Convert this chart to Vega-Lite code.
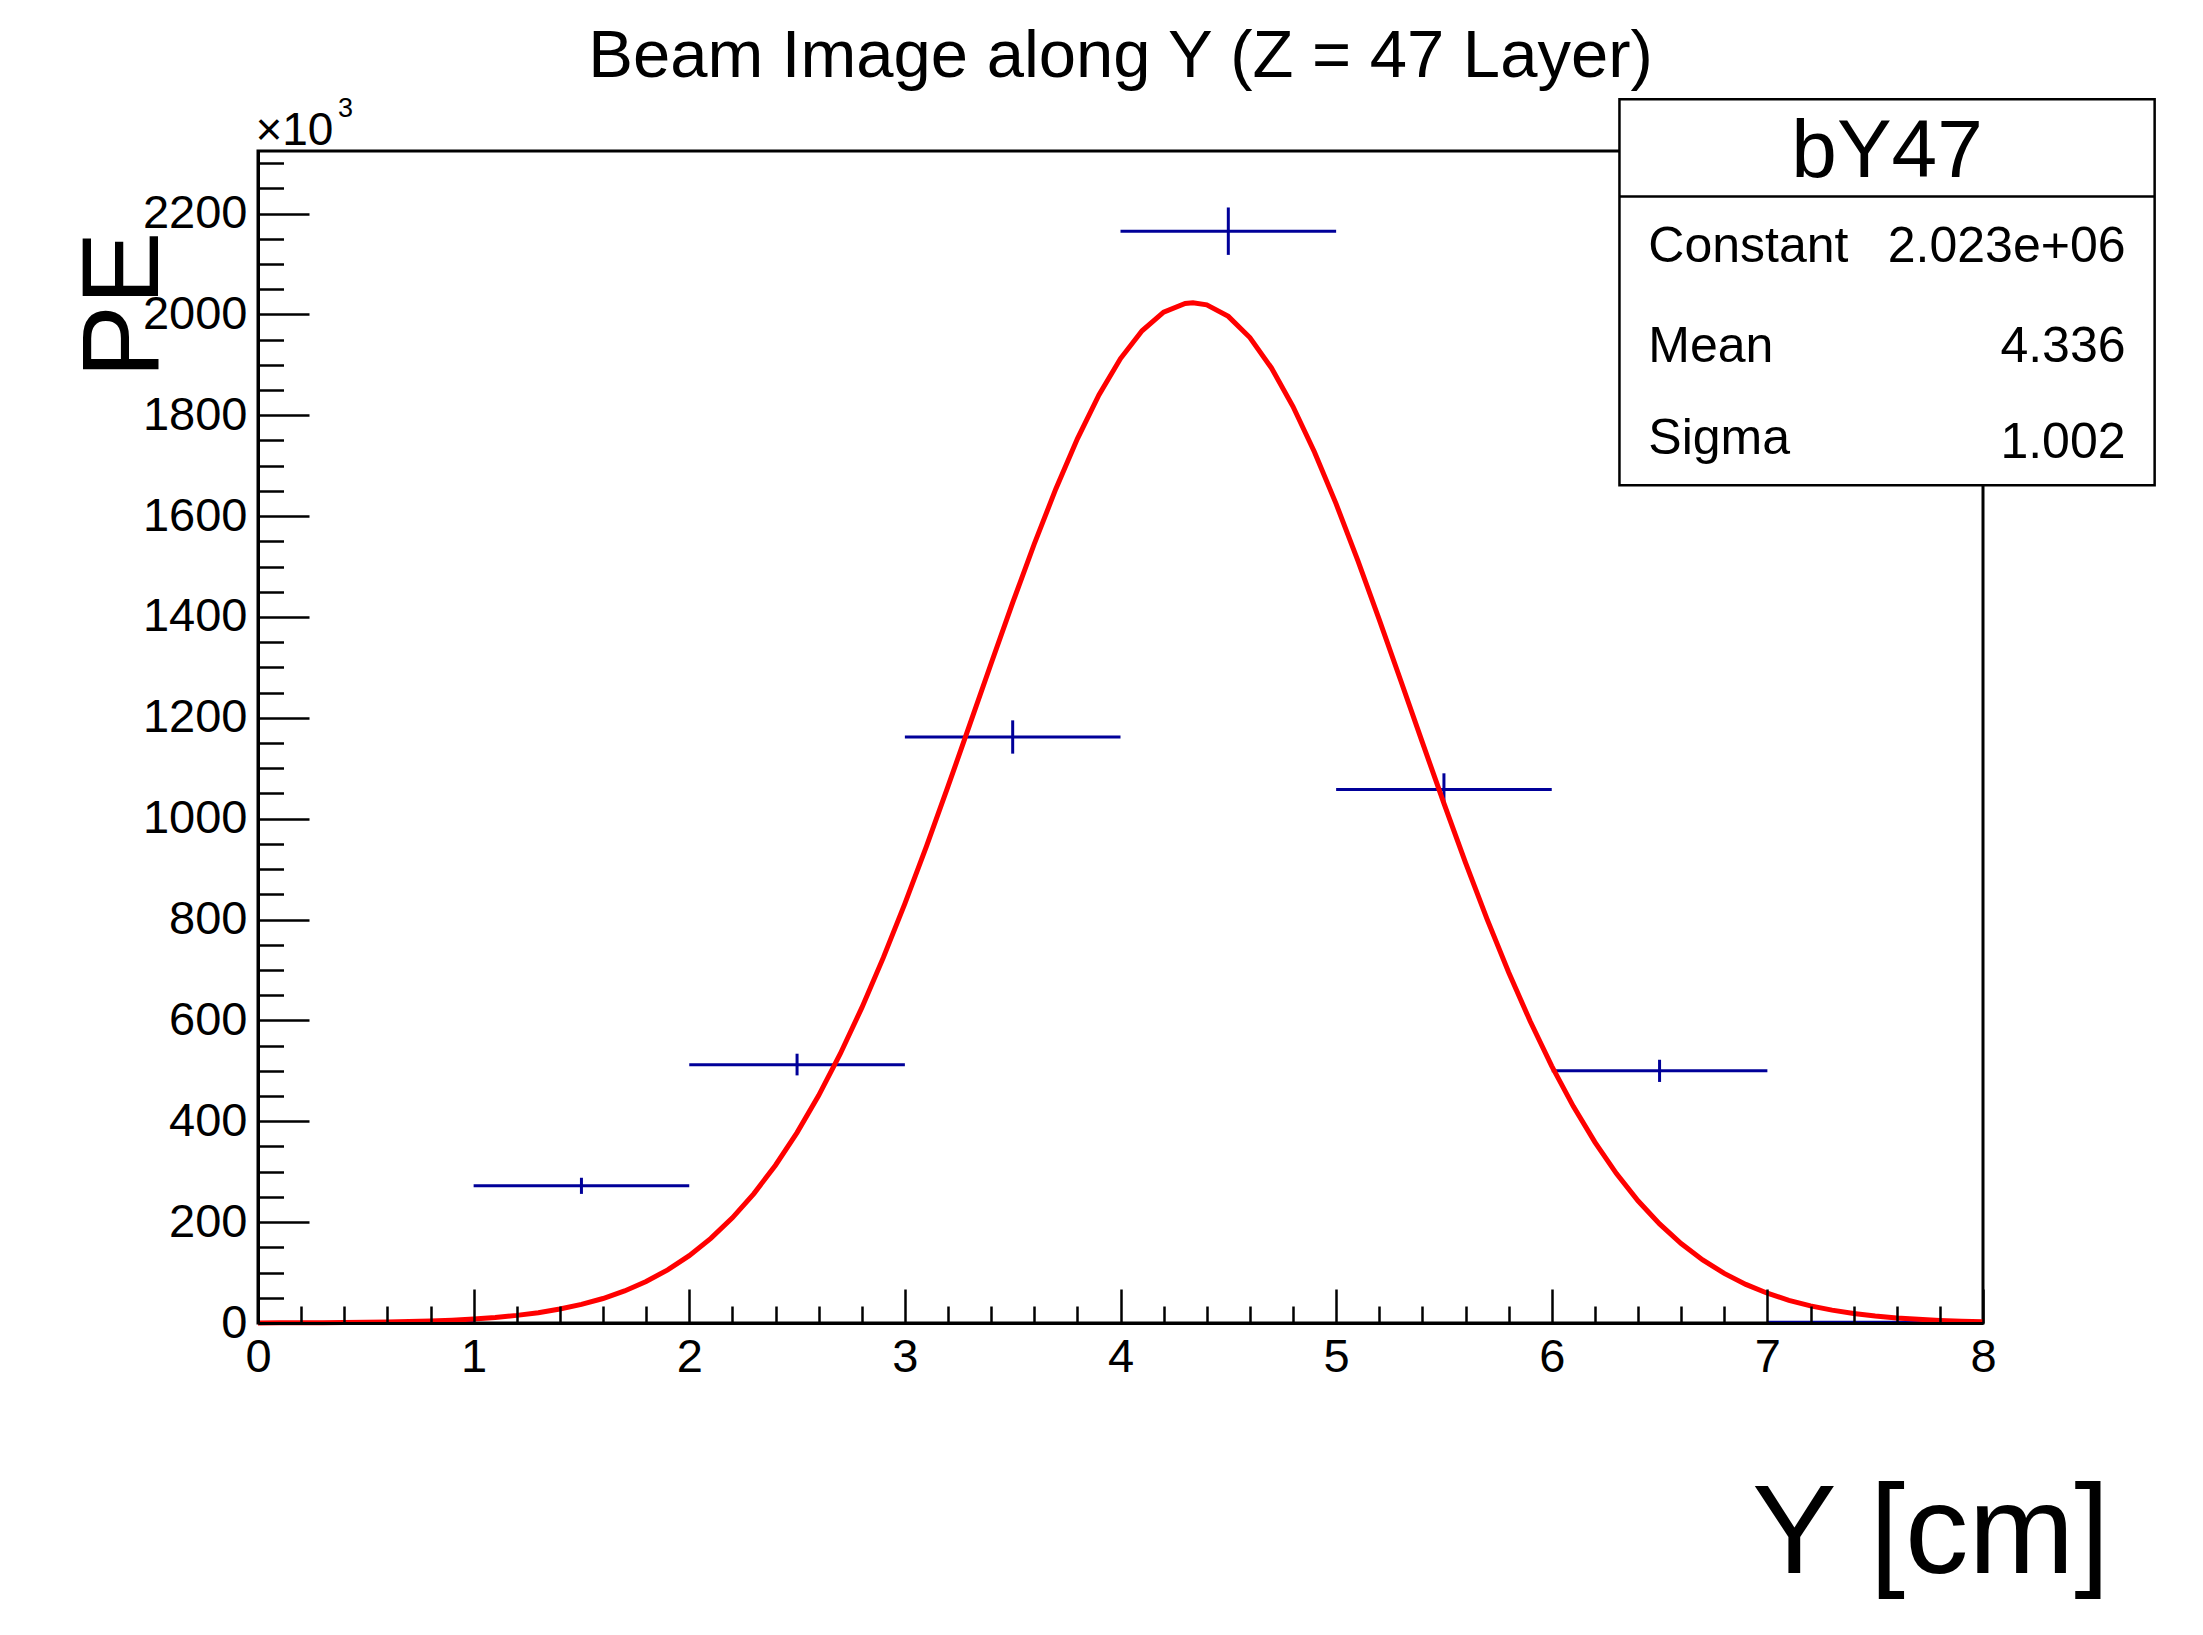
{
  "$schema": "https://vega.github.io/schema/vega-lite/v6.json",
  "width": 1725,
  "height": 1172,
  "autosize": {"type": "none"},
  "padding": {"left": 258, "top": 151, "right": 220, "bottom": 312},
  "background": "white",
  "config": {
    "font": "Liberation Sans",
    "view": {"stroke": "black", "strokeWidth": 3, "fill": "white"}
  },
  "datasets": {
    "bins": [
      {"lo": 0, "hi": 1, "c": 0.5, "pe": 1, "pe_lo": 1, "pe_hi": 1},
      {"lo": 1, "hi": 2, "c": 1.5, "pe": 272, "pe_lo": 256, "pe_hi": 288},
      {"lo": 2, "hi": 3, "c": 2.5, "pe": 512, "pe_lo": 491, "pe_hi": 534},
      {"lo": 3, "hi": 4, "c": 3.5, "pe": 1162, "pe_lo": 1129, "pe_hi": 1195},
      {"lo": 4, "hi": 5, "c": 4.5, "pe": 2165, "pe_lo": 2118, "pe_hi": 2212},
      {"lo": 5, "hi": 6, "c": 5.5, "pe": 1058, "pe_lo": 1026, "pe_hi": 1090},
      {"lo": 6, "hi": 7, "c": 6.5, "pe": 500, "pe_lo": 478, "pe_hi": 522},
      {"lo": 7, "hi": 8, "c": 7.5, "pe": 1.5, "pe_lo": 0.3, "pe_hi": 2.7}
    ],
    "fit": [
      {"y_cm": 0.0, "pe": 0.17}, {"y_cm": 0.1, "pe": 0.27}, {"y_cm": 0.2, "pe": 0.40}, {"y_cm": 0.3, "pe": 0.61},
      {"y_cm": 0.4, "pe": 0.90}, {"y_cm": 0.5, "pe": 1.33}, {"y_cm": 0.6, "pe": 1.94}, {"y_cm": 0.7, "pe": 2.80},
      {"y_cm": 0.8, "pe": 4.00}, {"y_cm": 0.9, "pe": 5.66}, {"y_cm": 1.0, "pe": 7.93}, {"y_cm": 1.1, "pe": 11.0},
      {"y_cm": 1.2, "pe": 15.1}, {"y_cm": 1.3, "pe": 20.5}, {"y_cm": 1.4, "pe": 27.7}, {"y_cm": 1.5, "pe": 36.9},
      {"y_cm": 1.6, "pe": 48.6}, {"y_cm": 1.7, "pe": 63.6}, {"y_cm": 1.8, "pe": 82.2}, {"y_cm": 1.9, "pe": 105.4},
      {"y_cm": 2.0, "pe": 133.6}, {"y_cm": 2.1, "pe": 167.8}, {"y_cm": 2.2, "pe": 208.6}, {"y_cm": 2.3, "pe": 256.7},
      {"y_cm": 2.4, "pe": 312.9}, {"y_cm": 2.5, "pe": 377.5}, {"y_cm": 2.6, "pe": 451.0}, {"y_cm": 2.7, "pe": 533.5},
      {"y_cm": 2.8, "pe": 624.8}, {"y_cm": 2.9, "pe": 724.5}, {"y_cm": 3.0, "pe": 831.7}, {"y_cm": 3.1, "pe": 945.3},
      {"y_cm": 3.2, "pe": 1063.9}, {"y_cm": 3.3, "pe": 1185.4}, {"y_cm": 3.4, "pe": 1307.7}, {"y_cm": 3.5, "pe": 1428.4},
      {"y_cm": 3.6, "pe": 1544.7}, {"y_cm": 3.7, "pe": 1653.9}, {"y_cm": 3.8, "pe": 1753.3}, {"y_cm": 3.9, "pe": 1840.3},
      {"y_cm": 4.0, "pe": 1912.4}, {"y_cm": 4.1, "pe": 1967.6}, {"y_cm": 4.2, "pe": 2004.5}, {"y_cm": 4.3, "pe": 2021.7},
      {"y_cm": 4.336, "pe": 2023.0}, {"y_cm": 4.4, "pe": 2018.9}, {"y_cm": 4.5, "pe": 1996.1}, {"y_cm": 4.6, "pe": 1954.0},
      {"y_cm": 4.7, "pe": 1893.8}, {"y_cm": 4.8, "pe": 1817.3}, {"y_cm": 4.9, "pe": 1726.6}, {"y_cm": 5.0, "pe": 1624.2},
      {"y_cm": 5.1, "pe": 1512.7}, {"y_cm": 5.2, "pe": 1394.9}, {"y_cm": 5.3, "pe": 1273.5}, {"y_cm": 5.4, "pe": 1151.2},
      {"y_cm": 5.5, "pe": 1030.3}, {"y_cm": 5.6, "pe": 912.9}, {"y_cm": 5.7, "pe": 801.0}, {"y_cm": 5.8, "pe": 695.7},
      {"y_cm": 5.9, "pe": 598.4}, {"y_cm": 6.0, "pe": 509.5}, {"y_cm": 6.1, "pe": 429.6}, {"y_cm": 6.2, "pe": 358.6},
      {"y_cm": 6.3, "pe": 296.3}, {"y_cm": 6.4, "pe": 242.4}, {"y_cm": 6.5, "pe": 196.4}, {"y_cm": 6.6, "pe": 157.6},
      {"y_cm": 6.7, "pe": 125.1}, {"y_cm": 6.8, "pe": 98.4}, {"y_cm": 6.9, "pe": 76.6}, {"y_cm": 7.0, "pe": 59.0},
      {"y_cm": 7.1, "pe": 45.0}, {"y_cm": 7.2, "pe": 34.0}, {"y_cm": 7.3, "pe": 25.5}, {"y_cm": 7.4, "pe": 18.9},
      {"y_cm": 7.5, "pe": 13.8}, {"y_cm": 7.6, "pe": 10.0}, {"y_cm": 7.7, "pe": 7.2}, {"y_cm": 7.8, "pe": 5.1},
      {"y_cm": 7.9, "pe": 3.6}, {"y_cm": 8.0, "pe": 2.5}
    ],
    "stats_box": [{"x1": 6.314, "x2": 8.796, "y1": 1661, "y2": 2426.5}],
    "stats_rule": [{"x1": 6.314, "x2": 8.796, "y": 2234}],
    "stats_head": [{"x": 7.555, "y": 2272, "t": "bY47"}],
    "stats_left": [
      {"x": 6.448, "y": 2103, "t": "Constant"},
      {"x": 6.448, "y": 1905, "t": "Mean"},
      {"x": 6.448, "y": 1724, "t": "Sigma"}
    ],
    "stats_right": [
      {"x": 8.661, "y": 2103, "t": "2.023e+06"},
      {"x": 8.661, "y": 1905, "t": "4.336"},
      {"x": 8.661, "y": 1716, "t": "1.002"}
    ],
    "title": [{"x": 4, "y": 2470, "t": "Beam Image along Y (Z = 47 Layer)"}],
    "exp_base": [{"x": -0.012, "y": 2335, "t": "×10"}],
    "exp_pow": [{"x": 0.371, "y": 2391, "t": "3"}]
  },
  "layer": [
    {
      "data": {"name": "bins"},
      "mark": {"type": "rule", "color": "#000099", "strokeWidth": 3},
      "encoding": {
        "x": {"field": "lo", "type": "quantitative",
              "scale": {"domain": [0, 8], "nice": false, "zero": false},
              "axis": {"orient": "bottom", "values": [0.2,0.4,0.6,0.8,1.2,1.4,1.6,1.8,2.2,2.4,2.6,2.8,3.2,3.4,3.6,3.8,4.2,4.4,4.6,4.8,5.2,5.4,5.6,5.8,6.2,6.4,6.6,6.8,7.2,7.4,7.6,7.8],
                       "labels": false, "domain": false, "grid": false, "title": null,
                       "tickSize": -17, "tickWidth": 2.5, "tickColor": "black", "zindex": 1}},
        "x2": {"field": "hi"},
        "y": {"field": "pe", "type": "quantitative",
              "scale": {"domain": [0, 2324], "nice": false, "zero": false},
              "axis": {"orient": "left", "values": [50,100,150,250,300,350,450,500,550,650,700,750,850,900,950,1050,1100,1150,1250,1300,1350,1450,1500,1550,1650,1700,1750,1850,1900,1950,2050,2100,2150,2250,2300],
                       "labels": false, "domain": false, "grid": false, "title": null,
                       "tickSize": -25.5, "tickWidth": 2.5, "tickColor": "black", "zindex": 1}}
      }
    },
    {
      "data": {"name": "bins"},
      "mark": {"type": "rule", "color": "#000099", "strokeWidth": 3},
      "encoding": {
        "x": {"field": "c", "type": "quantitative", "scale": {"domain": [0, 8], "nice": false, "zero": false}, "axis": null},
        "y": {"field": "pe_lo", "type": "quantitative", "scale": {"domain": [0, 2324], "nice": false, "zero": false}, "axis": null},
        "y2": {"field": "pe_hi"}
      }
    },
    {
      "data": {"name": "fit"},
      "mark": {"type": "line", "color": "#ff0000", "strokeWidth": 5, "interpolate": "linear"},
      "encoding": {
        "x": {"field": "y_cm", "type": "quantitative",
              "scale": {"domain": [0, 8], "nice": false, "zero": false},
              "axis": {"orient": "bottom", "values": [0,1,2,3,4,5,6,7,8], "format": "d",
                       "domain": true, "domainColor": "black", "domainWidth": 3,
                       "grid": false, "tickSize": -34, "tickWidth": 2.5, "tickColor": "black",
                       "labelFontSize": 47, "labelColor": "black", "labelFont": "Liberation Sans",
                       "labelPadding": 82, "labelBaseline": "alphabetic", "labelFlush": false, "labelOverlap": false,
                       "title": "Y [cm]", "titleFontSize": 127, "titleFontWeight": "normal", "titleColor": "black",
                       "titleFont": "Liberation Sans",
                       "titleAlign": "right", "titleBaseline": "alphabetic", "titleAnchor": "end",
                       "titleX": 1851, "titleY": 249, "zindex": 1}},
        "y": {"field": "pe", "type": "quantitative",
              "scale": {"domain": [0, 2324], "nice": false, "zero": false},
              "axis": {"orient": "left", "values": [0,200,400,600,800,1000,1200,1400,1600,1800,2000,2200], "format": "d",
                       "domain": true, "domainColor": "black", "domainWidth": 3,
                       "grid": false, "tickSize": -51, "tickWidth": 2.5, "tickColor": "black",
                       "labelFontSize": 47, "labelColor": "black", "labelFont": "Liberation Sans",
                       "labelPadding": 62, "labelBaseline": "middle", "labelAlign": "right", "labelFlush": false, "labelOverlap": false,
                       "title": "PE", "titleFontSize": 110, "titleFontWeight": "normal", "titleColor": "black",
                       "titleFont": "Liberation Sans", "titleAngle": 270,
                       "titleAlign": "right", "titleBaseline": "alphabetic", "titleAnchor": "end",
                       "titleX": -101, "titleY": 80, "zindex": 1}}
      }
    },
    {
      "data": {"name": "stats_box"},
      "mark": {"type": "rect", "fill": "white", "stroke": "black", "strokeWidth": 2.5},
      "encoding": {
        "x": {"field": "x1", "type": "quantitative", "scale": {"domain": [0, 8], "nice": false, "zero": false}, "axis": null},
        "x2": {"field": "x2"},
        "y": {"field": "y1", "type": "quantitative", "scale": {"domain": [0, 2324], "nice": false, "zero": false}, "axis": null},
        "y2": {"field": "y2"}
      }
    },
    {
      "data": {"name": "stats_rule"},
      "mark": {"type": "rule", "color": "black", "strokeWidth": 2.5},
      "encoding": {
        "x": {"field": "x1", "type": "quantitative", "scale": {"domain": [0, 8], "nice": false, "zero": false}, "axis": null},
        "x2": {"field": "x2"},
        "y": {"field": "y", "type": "quantitative", "scale": {"domain": [0, 2324], "nice": false, "zero": false}, "axis": null}
      }
    },
    {
      "data": {"name": "stats_head"},
      "mark": {"type": "text", "fontSize": 82, "align": "center", "baseline": "alphabetic", "color": "black"},
      "encoding": {
        "x": {"field": "x", "type": "quantitative", "scale": {"domain": [0, 8], "nice": false, "zero": false}, "axis": null},
        "y": {"field": "y", "type": "quantitative", "scale": {"domain": [0, 2324], "nice": false, "zero": false}, "axis": null},
        "text": {"field": "t"}
      }
    },
    {
      "data": {"name": "stats_left"},
      "mark": {"type": "text", "fontSize": 50, "align": "left", "baseline": "alphabetic", "color": "black"},
      "encoding": {
        "x": {"field": "x", "type": "quantitative", "scale": {"domain": [0, 8], "nice": false, "zero": false}, "axis": null},
        "y": {"field": "y", "type": "quantitative", "scale": {"domain": [0, 2324], "nice": false, "zero": false}, "axis": null},
        "text": {"field": "t"}
      }
    },
    {
      "data": {"name": "stats_right"},
      "mark": {"type": "text", "fontSize": 50, "align": "right", "baseline": "alphabetic", "color": "black"},
      "encoding": {
        "x": {"field": "x", "type": "quantitative", "scale": {"domain": [0, 8], "nice": false, "zero": false}, "axis": null},
        "y": {"field": "y", "type": "quantitative", "scale": {"domain": [0, 2324], "nice": false, "zero": false}, "axis": null},
        "text": {"field": "t"}
      }
    },
    {
      "data": {"name": "title"},
      "mark": {"type": "text", "fontSize": 67, "align": "center", "baseline": "alphabetic", "color": "black"},
      "encoding": {
        "x": {"field": "x", "type": "quantitative", "scale": {"domain": [0, 8], "nice": false, "zero": false}, "axis": null},
        "y": {"field": "y", "type": "quantitative", "scale": {"domain": [0, 2324], "nice": false, "zero": false}, "axis": null},
        "text": {"field": "t"}
      }
    },
    {
      "data": {"name": "exp_base"},
      "mark": {"type": "text", "fontSize": 46, "align": "left", "baseline": "alphabetic", "color": "black"},
      "encoding": {
        "x": {"field": "x", "type": "quantitative", "scale": {"domain": [0, 8], "nice": false, "zero": false}, "axis": null},
        "y": {"field": "y", "type": "quantitative", "scale": {"domain": [0, 2324], "nice": false, "zero": false}, "axis": null},
        "text": {"field": "t"}
      }
    },
    {
      "data": {"name": "exp_pow"},
      "mark": {"type": "text", "fontSize": 27, "align": "left", "baseline": "alphabetic", "color": "black"},
      "encoding": {
        "x": {"field": "x", "type": "quantitative", "scale": {"domain": [0, 8], "nice": false, "zero": false}, "axis": null},
        "y": {"field": "y", "type": "quantitative", "scale": {"domain": [0, 2324], "nice": false, "zero": false}, "axis": null},
        "text": {"field": "t"}
      }
    }
  ],
  "resolve": {"axis": {"x": "independent", "y": "independent"}}
}
